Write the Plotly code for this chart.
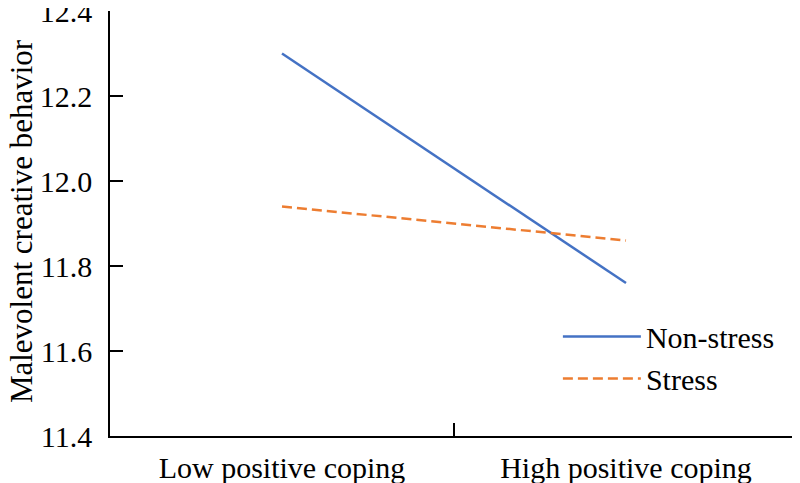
import plotly.graph_objects as go

categories = ["Low positive coping", "High positive coping"]
non_stress = [12.30, 11.76]
stress = [11.94, 11.86]
y_ticks = [11.4, 11.6, 11.8, 12.0, 12.2, 12.4]
y_tick_labels = ["11.4", "11.6", "11.8", "12.0", "12.2", "12.4"]
y_title = "Malevolent creative behavior"

FONT = "Liberation Serif"

fig = go.Figure()
fig.add_trace(go.Scatter(x=categories, y=non_stress, mode="lines", name="Non-stress",
                         line=dict(color="#4472C4", width=2.5)))
fig.add_trace(go.Scatter(x=categories, y=stress, mode="lines", name="Stress",
                         line=dict(color="#ED7D31", width=2.5, dash="10px,5px")))

fig.update_layout(
    width=800, height=483,
    margin=dict(l=102, r=10, t=3, b=55, autoexpand=False),
    paper_bgcolor="white", plot_bgcolor="white",
    font=dict(family=FONT, size=30, color="black"),
    showlegend=True,
    legend=dict(x=0.651, y=0.185, xanchor="left", yanchor="middle",
                bgcolor="rgba(0,0,0,0)", font=dict(family=FONT, size=30), tracegroupgap=0,
                itemwidth=78),
    annotations=[dict(text=y_title, xref="paper", yref="paper", x=-0.156, y=0.506,
                      xanchor="left", yanchor="middle", textangle=-90, showarrow=False,
                      font=dict(family=FONT, size=31, color="black"))],
)
fig.update_xaxes(type="category", range=[-0.5, 1.5], tickson="boundaries",
                 ticks="inside", ticklen=13, tickwidth=1.5, tickcolor="black",
                 showline=True, linecolor="black", linewidth=1.5, automargin=False,
                 showgrid=False, zeroline=False, ticklabelstandoff=4,
                 ticklabeloverflow="allow",
                 tickfont=dict(family=FONT, size=30))
fig.update_yaxes(range=[11.4, 12.4001], tickvals=y_ticks, ticktext=y_tick_labels,
                 ticks="inside", ticklen=13, tickwidth=1.5, tickcolor="black",
                 showline=True, linecolor="black", linewidth=1.5, automargin=False,
                 showgrid=False, zeroline=False, ticklabelstandoff=10,
                 ticklabeloverflow="allow",
                 tickfont=dict(family=FONT, size=30))

fig.write_html("out.html")
